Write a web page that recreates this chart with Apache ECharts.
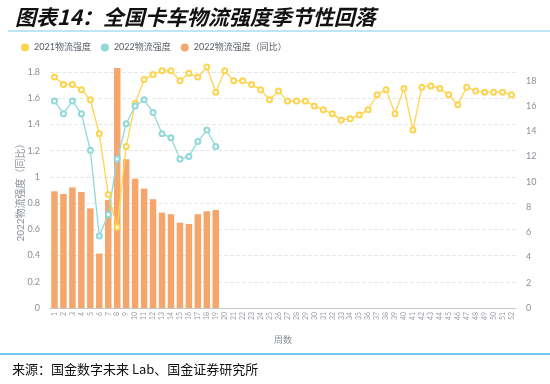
<!DOCTYPE html>
<html>
<head>
<meta charset="utf-8">
<script src="https://cdn.jsdelivr.net/npm/echarts@6/dist/echarts.min.js"></script>
<style>
  html, body { margin: 0; padding: 0; background: #fff; }
  #main { width: 550px; height: 384px; }
</style>
</head>
<body>
<div id="main"></div>
<script>
// 周数 1-52
const weeks = [];
for (let i = 1; i <= 52; i++) weeks.push(String(i));

// 2021物流强度（右轴）
const intensity2021 = [18.3, 17.7, 17.7, 17.3, 16.5, 13.8, 9.0, 6.4, 12.8, 16.2,
  18.1, 18.5, 18.8, 18.8, 18.0, 18.6, 18.3, 19.1, 17.1, 18.8,
  18.0, 18.0, 17.7, 17.3, 16.5, 17.2, 16.4, 16.4, 16.4, 16.0,
  15.7, 15.4, 14.9, 15.0, 15.3, 15.7, 16.9, 17.3, 15.4, 17.4,
  14.1, 17.5, 17.6, 17.4, 16.9, 16.1, 17.5, 17.2, 17.1, 17.1,
  17.1, 16.9];

// 2022物流强度（右轴）
const intensity2022 = [16.4, 15.4, 16.4, 15.4, 12.5, 5.7, 7.4, 11.8, 14.6, 16.0,
  16.5, 15.5, 13.8, 13.5, 11.8, 12.0, 13.2, 14.1, 12.8];

// 2022物流强度（同比，左轴）
const ratio2022 = [0.89, 0.87, 0.92, 0.885, 0.76, 0.415, 0.825, 1.83, 1.135, 0.985,
  0.91, 0.83, 0.727, 0.715, 0.651, 0.641, 0.715, 0.738, 0.748];

const grey = '#8a8f99';
const chart = echarts.init(document.getElementById('main'));

const option = {
  animation: false,
  textStyle: { fontFamily: 'Lato, "Noto Sans CJK SC", sans-serif' },
  title: {
    text: '图表14：全国卡车物流强度季节性回落',
    left: 10,
    top: 2,
    textStyle: {
      fontSize: 21,
      fontWeight: 'bold',
      fontStyle: 'italic',
      color: '#111',
      fontFamily: '"Noto Sans CJK SC", sans-serif'
    }
  },
  graphic: [
    {
      type: 'line',
      shape: { x1: 8, y1: 31, x2: 550, y2: 31 },
      style: { stroke: '#a8dcf4', lineWidth: 1.5 }
    },
    {
      type: 'line',
      shape: { x1: 0, y1: 354, x2: 550, y2: 354 },
      style: { stroke: '#3fb6e8', lineWidth: 1.5 }
    },
    {
      type: 'text',
      left: 12,
      top: 363,
      style: {
        text: '来源：国金数字未来 Lab、国金证券研究所',
        fontSize: 13,
        fill: '#111',
        fontFamily: '"Noto Sans CJK SC", sans-serif'
      }
    }
  ],
  legend: {
    left: 16,
    top: 38,
    icon: 'circle',
    itemWidth: 8,
    itemHeight: 8,
    itemGap: 10,
    textStyle: { fontSize: 9, color: '#555a66' },
    data: ['2021物流强度', '2022物流强度', '2022物流强度（同比）']
  },
  grid: { left: 50, right: 34, top: 72, bottom: 76 },
  xAxis: {
    type: 'category',
    data: weeks,
    name: '周数',
    nameLocation: 'middle',
    nameGap: 28,
    nameMoveOverlap: false,
    nameTextStyle: { fontSize: 9, color: grey },
    axisLine: { lineStyle: { color: '#c8c8c8' } },
    axisTick: { show: false },
    axisLabel: { interval: 0, rotate: 90, fontSize: 7, color: '#9a9ea6', margin: 4 }
  },
  yAxis: [
    {
      type: 'value',
      name: '2022物流强度（同比）',
      nameLocation: 'middle',
      nameGap: 24,
      nameMoveOverlap: false,
      nameTextStyle: { fontSize: 10, color: grey },
      min: 0,
      max: 1.8,
      interval: 0.2,
      axisLine: { show: false },
      axisTick: { show: false },
      axisLabel: { fontSize: 9, color: grey, margin: 10 },
      splitLine: { lineStyle: { color: '#e6e6e6', type: 'dashed' } }
    },
    {
      type: 'value',
      min: 0,
      max: 18.7,
      interval: 2,
      axisLine: { show: false },
      axisTick: { show: false },
      axisLabel: { fontSize: 9, color: grey, margin: 10, showMaxLabel: false },
      splitLine: { show: false }
    }
  ],
  series: [
    {
      name: '2021物流强度',
      type: 'line',
      yAxisIndex: 1,
      data: intensity2021,
      clip: false,
      symbol: 'emptyCircle',
      symbolSize: 5,
      z: 3,
      itemStyle: { color: '#fdd44f', borderWidth: 1.3 },
      lineStyle: { color: '#fdd44f', width: 1.3 }
    },
    {
      name: '2022物流强度',
      type: 'line',
      yAxisIndex: 1,
      data: intensity2022,
      clip: false,
      symbol: 'emptyCircle',
      symbolSize: 5,
      z: 3,
      itemStyle: { color: '#8fd9d9', borderWidth: 1.3 },
      lineStyle: { color: '#8fd9d9', width: 1.3 }
    },
    {
      name: '2022物流强度（同比）',
      type: 'bar',
      yAxisIndex: 0,
      data: ratio2022,
      clip: false,
      barWidth: 6.5,
      z: 2,
      itemStyle: { color: '#f4a66c' }
    }
  ]
};

chart.setOption(option);
</script>
</body>
</html>
